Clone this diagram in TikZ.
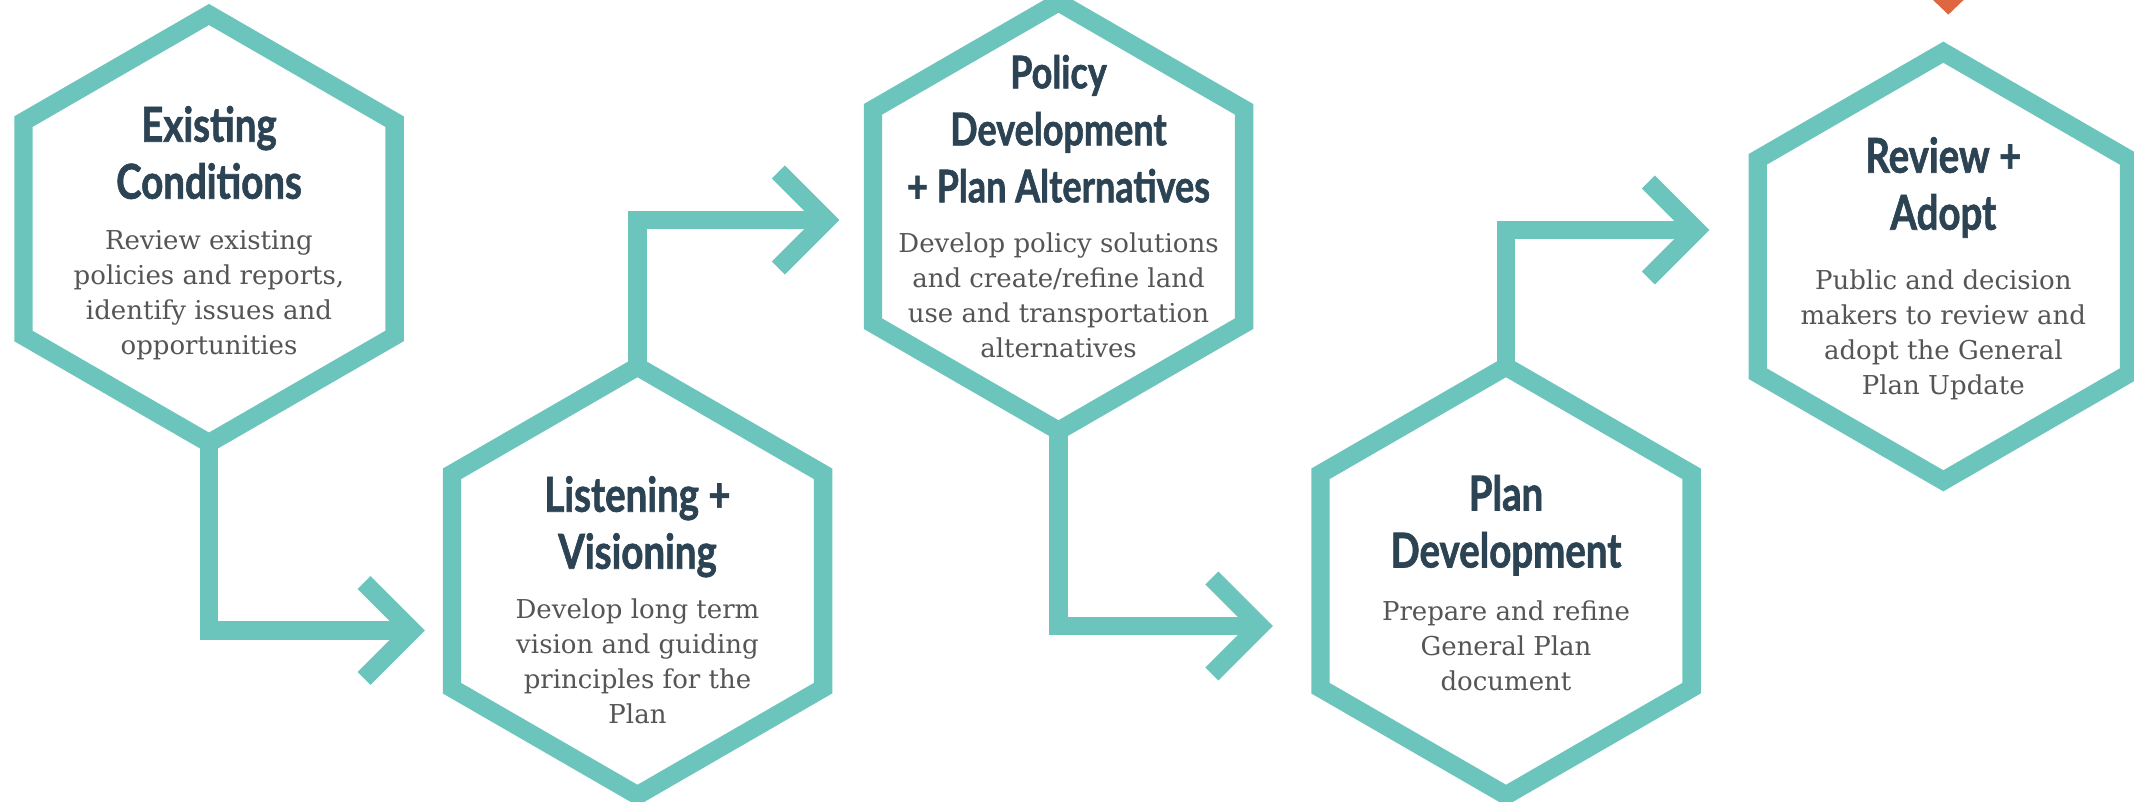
\documentclass[tikz,border=0pt]{standalone}
\usepackage{fontspec}
\setmainfont{DejaVu Serif}
\newfontfamily\titlefont[FakeStretch=0.8,FakeBold=1.3]{Lato}
\usetikzlibrary{calc}
\definecolor{hexteal}{HTML}{6CC5BC}
\definecolor{titleink}{HTML}{2C4354}
\definecolor{bodyink}{HTML}{555555}
\definecolor{markorange}{HTML}{DE6640}
\newcommand\HexCell[3]{%
  \coordinate (#1) at (#2,#3);
  \coordinate (#1-t) at ($(#1)+(0,-214.3)$);
  \coordinate (#1-b) at ($(#1)+(0,214.3)$);
  \draw[hexline] (#1-t) -- ++(-185.6,107.15) -- ++(0,214.3) -- ++(185.6,107.15)
    -- ++(185.6,-107.15) -- ++(0,-214.3) -- cycle;
}
\newcommand\Chevron[1]{%
  \draw[hexline] ($(#1)+(-48,-48)$) -- (#1) -- ($(#1)+(-48,48)$);
}
\begin{document}
\begin{tikzpicture}[x=1pt,y=-1pt,
  hexline/.style={draw=hexteal,line width=18.3pt,line join=miter,miter limit=10,line cap=butt},
  titletext/.style={font=\titlefont\bfseries\fontsize{#1}{57}\selectfont,text=titleink,inner sep=0pt,anchor=base},
  titletext/.default=48,
  bodytext/.style={font=\fontsize{26}{35.1}\selectfont,text=bodyink,inner sep=0pt,anchor=base}]
\useasboundingbox (0,0) rectangle (2134,802);
\fill[white] (0,0) rectangle (2134,802);

% hexagons
\HexCell{h1}{209}{228.8}
\HexCell{h2}{637.5}{581}
\HexCell{h3}{1058.5}{216.5}
\HexCell{h4}{1506}{581}
\HexCell{h5}{1943.3}{266.5}

% arrow tips (centre line)
\coordinate (a1) at (412,630.5);
\coordinate (a2) at (826.4,220);
\coordinate (a3) at (1259.8,626);
\coordinate (a4) at (1696.4,230);

% connectors
\draw[hexline] (h1-b) |- (a1);
\Chevron{a1}
\draw[hexline] (h2-t) |- (a2);
\Chevron{a2}
\draw[hexline] (h3-b) |- (a3);
\Chevron{a3}
\draw[hexline] (h4-t) |- (a4);
\Chevron{a4}

% orange mark
\fill[markorange] (1932,-1) -- (1964.6,-1) -- (1948.3,14.6) -- cycle;

% texts
\node[titletext] (t1) at (209,141.7) {\begin{tabular}[t]{@{}c@{}}Existing\\Conditions\end{tabular}};
\node[bodytext] (b1) at (209,249.3) {\begin{tabular}[t]{@{}c@{}}Review existing\\policies and reports,\\identify issues and\\opportunities\end{tabular}};

\node[titletext] (t2) at (637.5,511.7) {\begin{tabular}[t]{@{}c@{}}Listening +\\Visioning\end{tabular}};
\node[bodytext] (b2) at (637.5,618.3) {\begin{tabular}[t]{@{}c@{}}Develop long term\\vision and guiding\\principles for the\\Plan\end{tabular}};

\node[titletext=45] (t3) at (1058.5,88.3) {\begin{tabular}[t]{@{}c@{}}Policy\\Development\\+ Plan Alternatives\end{tabular}};
\node[bodytext] (b3) at (1058.5,252.7) {\begin{tabular}[t]{@{}c@{}}Develop policy solutions\\and create/refine land\\use and transportation\\alternatives\end{tabular}};

\node[titletext] (t4) at (1506,510.5) {\begin{tabular}[t]{@{}c@{}}Plan\\Development\end{tabular}};
\node[bodytext] (b4) at (1506,620) {\begin{tabular}[t]{@{}c@{}}Prepare and refine\\General Plan\\document\end{tabular}};

\node[titletext] (t5) at (1943.3,172.7) {\begin{tabular}[t]{@{}c@{}}Review +\\Adopt\end{tabular}};
\node[bodytext] (b5) at (1943.3,289.3) {\begin{tabular}[t]{@{}c@{}}Public and decision\\makers to review and\\adopt the General\\Plan Update\end{tabular}};
\end{tikzpicture}
\end{document}
